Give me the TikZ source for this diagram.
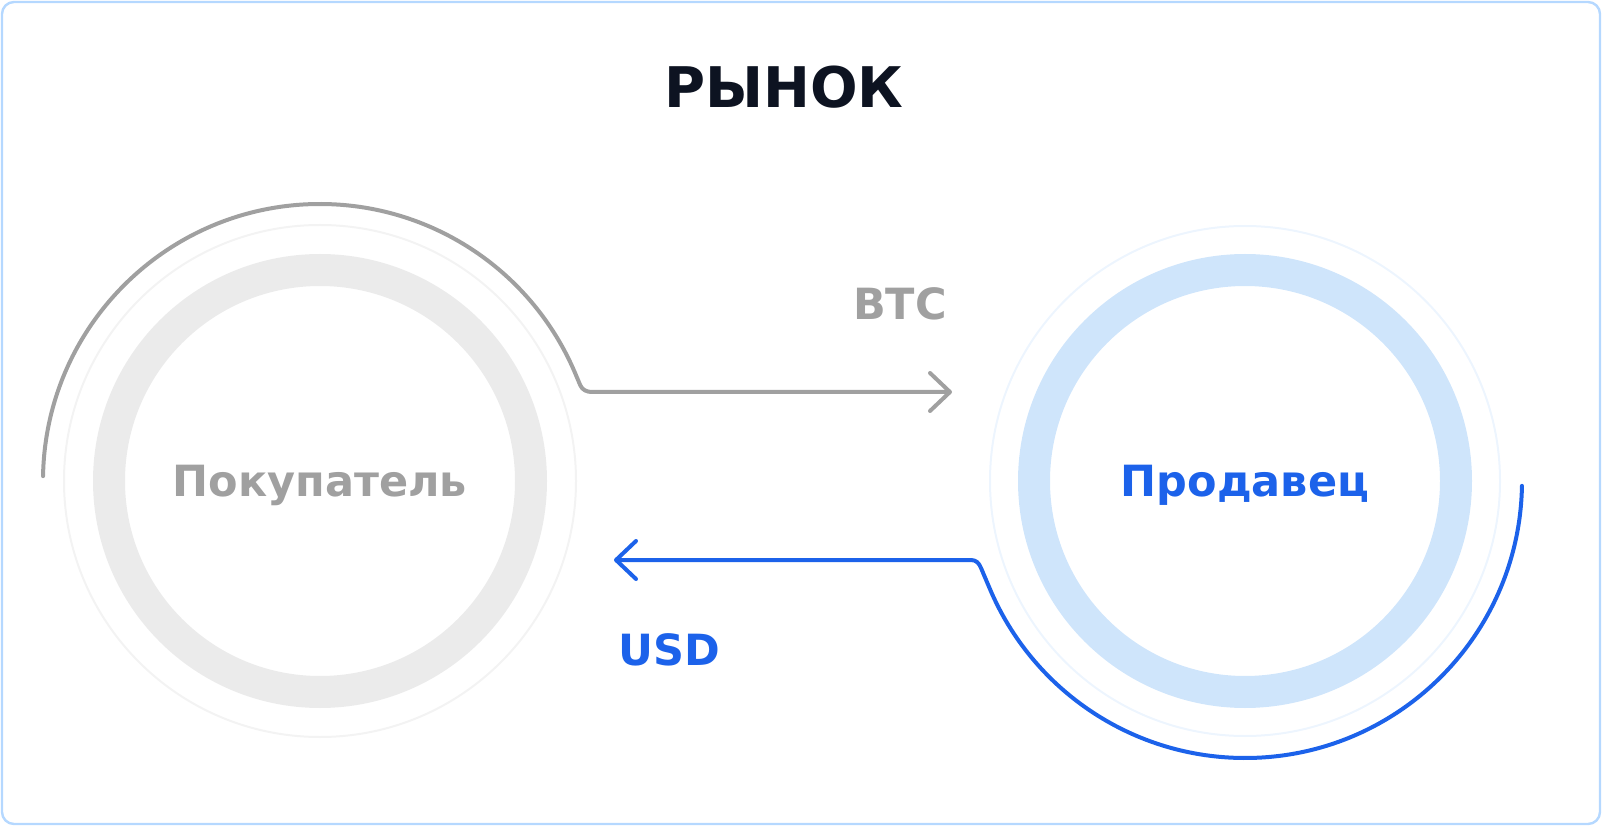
\documentclass[tikz,border=0pt]{standalone}
\usepackage{fontspec}
\setmainfont{DejaVu Sans}
\usetikzlibrary{positioning, arrows.meta, calc}
\definecolor{frameblue}{HTML}{B5D8FF}
\definecolor{titleink}{HTML}{0D1321}
\definecolor{greyink}{HTML}{A0A0A0}
\definecolor{greyring}{HTML}{EBEBEB}
\definecolor{greyhalo}{HTML}{F3F3F3}
\definecolor{blueink}{HTML}{1C62EA}
\definecolor{bluering}{HTML}{CFE5FB}
\definecolor{bluehalo}{HTML}{EDF5FE}

\begin{document}
\begin{tikzpicture}[x=0.5pt, y=0.5pt,
  ring/.style={circle, line width=16pt, minimum size=211pt, inner sep=0pt,
    text height=15.7pt, text depth=0pt, font=\bfseries\fontsize{21.5}{26}\selectfont},
  halo/.style={line width=1pt},
  flow/.style={line width=2pt, line cap=round, line join=round,
    -{Straight Barb[length=10pt, width=19pt, line width=2pt, round]}},
  tag/.style={font=\bfseries\fontsize{21.5}{26}\selectfont, anchor=base}]
\useasboundingbox (0,0) rectangle (1602,826);
% Frame
\draw[frameblue, line width=1.2pt, rounded corners=6pt] (2,2) rectangle (1600,824);
% Title
\node[titleink, anchor=base, font=\bfseries\fontsize{28}{34}\selectfont] (market) at (784,718) {РЫНОК};
% Participants
\node[ring, draw=greyring, text=greyink] (buyer) at (320,345) {Покупатель};
\node[ring, draw=bluering, text=blueink] (seller) at (1245,345) {Продавец};
\draw[greyhalo, halo] (buyer.center) circle[radius=256];
\draw[bluehalo, halo] (seller.center) circle[radius=255];
% Free ends of the two flows
\coordinate (btc tip) at (952,434);
\coordinate (usd tip) at (614,266);
% BTC: buyer -> seller
\draw[greyink, flow] ([shift={(179:277)}]buyer.center)
  arc[start angle=179, end angle=23, radius=277] -- ++(5.2,-12.3)
  .. controls +(2,-5) and +(-5,0) .. (592,434) -- (btc tip);
\node[tag, greyink] (btc) at (900,506) {BTC};
% USD: seller -> buyer
\draw[blueink, flow] ([shift={(-1:277)}]seller.center)
  arc[start angle=-1, end angle=-157, radius=277] -- ++(-9,21.2)
  .. controls +(-2,5) and +(5,0) .. (971,266) -- (usd tip);
\node[tag, blueink] (usd) at (669,161) {USD};
\end{tikzpicture}
\end{document}
